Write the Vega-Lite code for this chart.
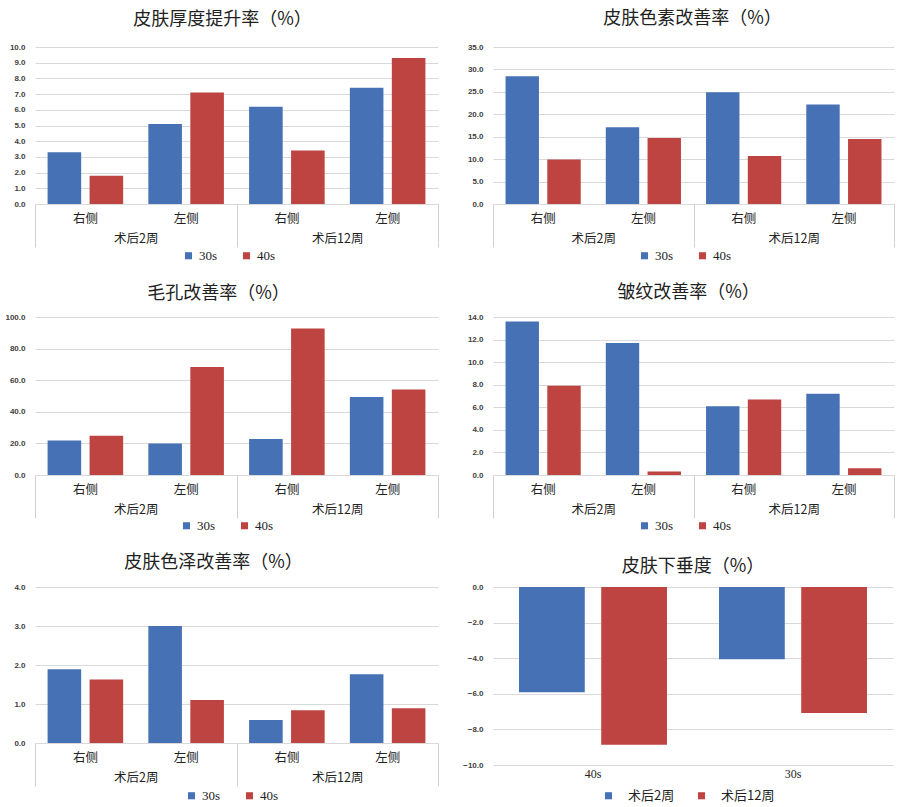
{
  "$schema": "https://vega.github.io/schema/vega-lite/v6.json",
  "background": "white",
  "padding": {"left": 3, "top": 10, "right": 5, "bottom": 0},
  "columns": 2,
  "spacing": {"row": 21, "column": 22},
  "resolve": {"scale": {"color": "independent", "xOffset": "independent", "x": "independent", "y": "independent"}, "legend": {"color": "independent"}},
  "config": {
    "view": {"stroke": null},
    "font": "Noto Sans CJK SC",
    "title": {"fontSize": 18, "fontWeight": "normal", "color": "#222222", "font": "Noto Sans CJK SC", "anchor": "middle"},
    "axisY": {"grid": true, "gridColor": "#d9d9d9", "domain": false, "ticks": false, "labelFontSize": 8, "labelFontWeight": "bold", "labelColor": "#404040", "labelFont": "Liberation Sans", "labelPadding": 10, "minExtent": 32, "maxExtent": 32, "title": null, "format": ".1f"},
    "axisX": {"grid": false, "labelAngle": 0, "title": null, "labelColor": "#222222"},
    "legend": {"orient": "none", "direction": "horizontal", "columns": 2, "symbolType": "square", "symbolSize": 50, "labelFontSize": 13, "labelFont": "Liberation Serif", "labelColor": "#222222", "title": null, "columnPadding": 22, "labelOffset": 4}
  },
  "concat": [
    {
      "title": {"text": "皮肤厚度提升率（%）", "dx": -14, "offset": 14},
      "width": 403, "height": 157,
      "data": {"values": [
        {"group": "术后2周", "cat": "术后2周|右侧", "series": "30s", "value": 3.3},
        {"group": "术后2周", "cat": "术后2周|右侧", "series": "40s", "value": 1.8},
        {"group": "术后2周", "cat": "术后2周|左侧", "series": "30s", "value": 5.1},
        {"group": "术后2周", "cat": "术后2周|左侧", "series": "40s", "value": 7.1},
        {"group": "术后12周", "cat": "术后12周|右侧", "series": "30s", "value": 6.2},
        {"group": "术后12周", "cat": "术后12周|右侧", "series": "40s", "value": 3.4},
        {"group": "术后12周", "cat": "术后12周|左侧", "series": "30s", "value": 7.4},
        {"group": "术后12周", "cat": "术后12周|左侧", "series": "40s", "value": 9.3}
      ]},
      "layer": [
        {"mark": {"type": "bar"},
         "encoding": {
           "x": {"field": "cat", "type": "nominal", "sort": ["术后2周|右侧", "术后2周|左侧", "术后12周|右侧", "术后12周|左侧"], "scale": {"paddingInner": 0.25, "paddingOuter": 0.125}, "axis": {"labelExpr": "split(datum.label,'|')[1]", "ticks": false, "tickSize": 0, "domain": false, "labelPadding": 8, "labelFontSize": 12.5}},
           "xOffset": {"field": "series", "type": "nominal", "sort": ["30s", "40s"], "scale": {"paddingInner": 0.2, "paddingOuter": 0}},
           "y": {"field": "value", "type": "quantitative", "scale": {"domain": [0, 10]}, "axis": {"values": [0, 1, 2, 3, 4, 5, 6, 7, 8, 9, 10]}},
           "color": {"field": "series", "type": "nominal", "scale": {"domain": ["30s", "40s"], "range": ["#4672b5", "#be4442"]}, "legend": {"legendX": 147, "legendY": 202}}
         }},
        {"mark": {"type": "bar", "opacity": 0},
         "encoding": {
           "x": {"field": "group", "type": "nominal", "sort": ["术后2周", "术后12周"], "scale": {"paddingInner": 0, "paddingOuter": 0}, "axis": {"orient": "bottom", "tickBand": "extent", "tickSize": 43, "tickColor": "#d0d0d0", "domain": false, "labelPadding": -15, "labelFontSize": 12.5}}
         }}
      ],
      "resolve": {"scale": {"x": "independent"}, "axis": {"x": "independent"}}
    },
    {
      "title": {"text": "皮肤色素改善率（%）", "dx": -1, "offset": 15},
      "width": 401, "height": 157,
      "data": {"values": [
        {"group": "术后2周", "cat": "术后2周|右侧", "series": "30s", "value": 28.5},
        {"group": "术后2周", "cat": "术后2周|右侧", "series": "40s", "value": 9.9},
        {"group": "术后2周", "cat": "术后2周|左侧", "series": "30s", "value": 17.1},
        {"group": "术后2周", "cat": "术后2周|左侧", "series": "40s", "value": 14.7},
        {"group": "术后12周", "cat": "术后12周|右侧", "series": "30s", "value": 24.9},
        {"group": "术后12周", "cat": "术后12周|右侧", "series": "40s", "value": 10.7},
        {"group": "术后12周", "cat": "术后12周|左侧", "series": "30s", "value": 22.2},
        {"group": "术后12周", "cat": "术后12周|左侧", "series": "40s", "value": 14.5}
      ]},
      "layer": [
        {"mark": {"type": "bar"},
         "encoding": {
           "x": {"field": "cat", "type": "nominal", "sort": ["术后2周|右侧", "术后2周|左侧", "术后12周|右侧", "术后12周|左侧"], "scale": {"paddingInner": 0.25, "paddingOuter": 0.125}, "axis": {"labelExpr": "split(datum.label,'|')[1]", "ticks": false, "tickSize": 0, "domain": false, "labelPadding": 8, "labelFontSize": 12.5}},
           "xOffset": {"field": "series", "type": "nominal", "sort": ["30s", "40s"], "scale": {"paddingInner": 0.2, "paddingOuter": 0}},
           "y": {"field": "value", "type": "quantitative", "scale": {"domain": [0, 35]}, "axis": {"values": [0, 5, 10, 15, 20, 25, 30, 35]}},
           "color": {"field": "series", "type": "nominal", "scale": {"domain": ["30s", "40s"], "range": ["#4672b5", "#be4442"]}, "legend": {"legendX": 145, "legendY": 202}}
         }},
        {"mark": {"type": "bar", "opacity": 0},
         "encoding": {
           "x": {"field": "group", "type": "nominal", "sort": ["术后2周", "术后12周"], "scale": {"paddingInner": 0, "paddingOuter": 0}, "axis": {"orient": "bottom", "tickBand": "extent", "tickSize": 43, "tickColor": "#d0d0d0", "domain": false, "labelPadding": -15, "labelFontSize": 12.5}}
         }}
      ],
      "resolve": {"scale": {"x": "independent"}, "axis": {"x": "independent"}}
    },
    {
      "title": {"text": "毛孔改善率（%）", "dx": -18, "offset": 10},
      "width": 403, "height": 158,
      "data": {"values": [
        {"group": "术后2周", "cat": "术后2周|右侧", "series": "30s", "value": 21.8},
        {"group": "术后2周", "cat": "术后2周|右侧", "series": "40s", "value": 24.9},
        {"group": "术后2周", "cat": "术后2周|左侧", "series": "30s", "value": 19.9},
        {"group": "术后2周", "cat": "术后2周|左侧", "series": "40s", "value": 68.4},
        {"group": "术后12周", "cat": "术后12周|右侧", "series": "30s", "value": 22.8},
        {"group": "术后12周", "cat": "术后12周|右侧", "series": "40s", "value": 92.8},
        {"group": "术后12周", "cat": "术后12周|左侧", "series": "30s", "value": 49.3},
        {"group": "术后12周", "cat": "术后12周|左侧", "series": "40s", "value": 54.1}
      ]},
      "layer": [
        {"mark": {"type": "bar"},
         "encoding": {
           "x": {"field": "cat", "type": "nominal", "sort": ["术后2周|右侧", "术后2周|左侧", "术后12周|右侧", "术后12周|左侧"], "scale": {"paddingInner": 0.25, "paddingOuter": 0.125}, "axis": {"labelExpr": "split(datum.label,'|')[1]", "ticks": false, "tickSize": 0, "domain": false, "labelPadding": 8, "labelFontSize": 12.5}},
           "xOffset": {"field": "series", "type": "nominal", "sort": ["30s", "40s"], "scale": {"paddingInner": 0.2, "paddingOuter": 0}},
           "y": {"field": "value", "type": "quantitative", "scale": {"domain": [0, 100]}, "axis": {"values": [0, 20, 40, 60, 80, 100]}},
           "color": {"field": "series", "type": "nominal", "scale": {"domain": ["30s", "40s"], "range": ["#4672b5", "#be4442"]}, "legend": {"legendX": 145, "legendY": 202}}
         }},
        {"mark": {"type": "bar", "opacity": 0},
         "encoding": {
           "x": {"field": "group", "type": "nominal", "sort": ["术后2周", "术后12周"], "scale": {"paddingInner": 0, "paddingOuter": 0}, "axis": {"orient": "bottom", "tickBand": "extent", "tickSize": 43, "tickColor": "#d0d0d0", "domain": false, "labelPadding": -15, "labelFontSize": 12.5}}
         }}
      ],
      "resolve": {"scale": {"x": "independent"}, "axis": {"x": "independent"}}
    },
    {
      "title": {"text": "皱纹改善率（%）", "dx": -5, "offset": 11},
      "width": 401, "height": 158,
      "data": {"values": [
        {"group": "术后2周", "cat": "术后2周|右侧", "series": "30s", "value": 13.6},
        {"group": "术后2周", "cat": "术后2周|右侧", "series": "40s", "value": 7.9},
        {"group": "术后2周", "cat": "术后2周|左侧", "series": "30s", "value": 11.7},
        {"group": "术后2周", "cat": "术后2周|左侧", "series": "40s", "value": 0.3},
        {"group": "术后12周", "cat": "术后12周|右侧", "series": "30s", "value": 6.1},
        {"group": "术后12周", "cat": "术后12周|右侧", "series": "40s", "value": 6.7},
        {"group": "术后12周", "cat": "术后12周|左侧", "series": "30s", "value": 7.2},
        {"group": "术后12周", "cat": "术后12周|左侧", "series": "40s", "value": 0.6}
      ]},
      "layer": [
        {"mark": {"type": "bar"},
         "encoding": {
           "x": {"field": "cat", "type": "nominal", "sort": ["术后2周|右侧", "术后2周|左侧", "术后12周|右侧", "术后12周|左侧"], "scale": {"paddingInner": 0.25, "paddingOuter": 0.125}, "axis": {"labelExpr": "split(datum.label,'|')[1]", "ticks": false, "tickSize": 0, "domain": false, "labelPadding": 8, "labelFontSize": 12.5}},
           "xOffset": {"field": "series", "type": "nominal", "sort": ["30s", "40s"], "scale": {"paddingInner": 0.2, "paddingOuter": 0}},
           "y": {"field": "value", "type": "quantitative", "scale": {"domain": [0, 14]}, "axis": {"values": [0, 2, 4, 6, 8, 10, 12, 14]}},
           "color": {"field": "series", "type": "nominal", "scale": {"domain": ["30s", "40s"], "range": ["#4672b5", "#be4442"]}, "legend": {"legendX": 145, "legendY": 202}}
         }},
        {"mark": {"type": "bar", "opacity": 0},
         "encoding": {
           "x": {"field": "group", "type": "nominal", "sort": ["术后2周", "术后12周"], "scale": {"paddingInner": 0, "paddingOuter": 0}, "axis": {"orient": "bottom", "tickBand": "extent", "tickSize": 43, "tickColor": "#d0d0d0", "domain": false, "labelPadding": -15, "labelFontSize": 12.5}}
         }}
      ],
      "resolve": {"scale": {"x": "independent"}, "axis": {"x": "independent"}}
    },
    {
      "title": {"text": "皮肤色泽改善率（%）", "dx": -23, "offset": 11},
      "width": 403, "height": 156,
      "data": {"values": [
        {"group": "术后2周", "cat": "术后2周|右侧", "series": "30s", "value": 1.89},
        {"group": "术后2周", "cat": "术后2周|右侧", "series": "40s", "value": 1.63},
        {"group": "术后2周", "cat": "术后2周|左侧", "series": "30s", "value": 3.0},
        {"group": "术后2周", "cat": "术后2周|左侧", "series": "40s", "value": 1.1},
        {"group": "术后12周", "cat": "术后12周|右侧", "series": "30s", "value": 0.59},
        {"group": "术后12周", "cat": "术后12周|右侧", "series": "40s", "value": 0.84},
        {"group": "术后12周", "cat": "术后12周|左侧", "series": "30s", "value": 1.76},
        {"group": "术后12周", "cat": "术后12周|左侧", "series": "40s", "value": 0.89}
      ]},
      "layer": [
        {"mark": {"type": "bar"},
         "encoding": {
           "x": {"field": "cat", "type": "nominal", "sort": ["术后2周|右侧", "术后2周|左侧", "术后12周|右侧", "术后12周|左侧"], "scale": {"paddingInner": 0.25, "paddingOuter": 0.125}, "axis": {"labelExpr": "split(datum.label,'|')[1]", "ticks": false, "tickSize": 0, "domain": false, "labelPadding": 8, "labelFontSize": 12.5}},
           "xOffset": {"field": "series", "type": "nominal", "sort": ["30s", "40s"], "scale": {"paddingInner": 0.2, "paddingOuter": 0}},
           "y": {"field": "value", "type": "quantitative", "scale": {"domain": [0, 4]}, "axis": {"values": [0, 1, 2, 3, 4]}},
           "color": {"field": "series", "type": "nominal", "scale": {"domain": ["30s", "40s"], "range": ["#4672b5", "#be4442"]}, "legend": {"legendX": 150, "legendY": 202}}
         }},
        {"mark": {"type": "bar", "opacity": 0},
         "encoding": {
           "x": {"field": "group", "type": "nominal", "sort": ["术后2周", "术后12周"], "scale": {"paddingInner": 0, "paddingOuter": 0}, "axis": {"orient": "bottom", "tickBand": "extent", "tickSize": 43, "tickColor": "#d0d0d0", "domain": false, "labelPadding": -15, "labelFontSize": 12.5}}
         }}
      ],
      "resolve": {"scale": {"x": "independent"}, "axis": {"x": "independent"}}
    },
    {
      "title": {"text": "皮肤下垂度（%）", "dx": 0, "offset": 7},
      "width": 400, "height": 178,
      "data": {"values": [
        {"cat": "40s", "series": "术后2周", "value": -5.91},
        {"cat": "40s", "series": "术后12周", "value": -8.86},
        {"cat": "30s", "series": "术后2周", "value": -4.06},
        {"cat": "30s", "series": "术后12周", "value": -7.08}
      ]},
      "mark": {"type": "bar"},
      "encoding": {
        "x": {"field": "cat", "type": "nominal", "sort": ["40s", "30s"], "scale": {"paddingInner": 0.26, "paddingOuter": 0.13}, "axis": {"ticks": false, "tickSize": 0, "domain": false, "labelPadding": 3, "labelFontSize": 12, "labelFont": "Liberation Serif"}},
        "xOffset": {"field": "series", "type": "nominal", "sort": ["术后2周", "术后12周"], "scale": {"paddingInner": 0.2, "paddingOuter": 0}},
        "y": {"field": "value", "type": "quantitative", "scale": {"domain": [-10, 0]}, "axis": {"values": [-10, -8, -6, -4, -2, 0]}},
        "color": {"field": "series", "type": "nominal", "scale": {"domain": ["术后2周", "术后12周"], "range": ["#4672b5", "#be4442"]}, "legend": {"legendX": 109, "legendY": 202, "labelOffset": 13, "columnPadding": 20, "labelFont": "Noto Sans CJK SC"}}
      }
    }
  ]
}
